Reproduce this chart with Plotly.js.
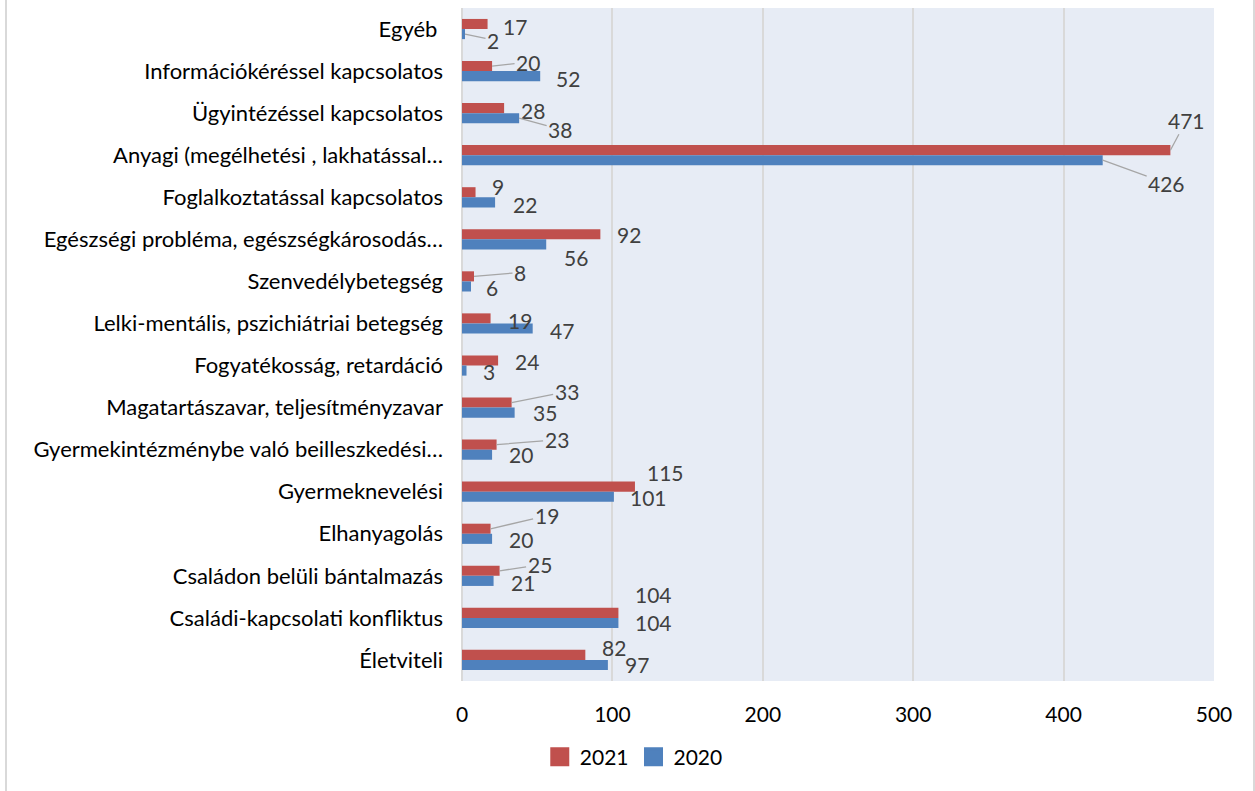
<!DOCTYPE html>
<html>
<head>
<meta charset="utf-8">
<script src="https://cdn.plot.ly/plotly-3.0.1.min.js"></script>
<style>
  html, body { margin: 0; padding: 0; background: #fff; }
  #frame { position: absolute; left: 5px; top: -5px; width: 1246px; height: 820px;
           border-left: 2px solid #d9d9d9; border-right: 2px solid #d9d9d9; }
  #chart { position: absolute; left: 0; top: 0; width: 1255px; height: 791px; }
</style>
</head>
<body>
<div id="frame"></div>
<div id="chart"></div>
<script>
// ---- data ----
const categories = [
  "Egyéb\u00a0",
  "Információkéréssel kapcsolatos",
  "Ügyintézéssel kapcsolatos",
  "Anyagi (megélhetési , lakhatással…",
  "Foglalkoztatással kapcsolatos",
  "Egészségi probléma, egészségkárosodás…",
  "Szenvedélybetegség",
  "Lelki-mentális, pszichiátriai betegség",
  "Fogyatékosság, retardáció",
  "Magatartászavar, teljesítményzavar",
  "Gyermekintézménybe való beilleszkedési…",
  "Gyermeknevelési",
  "Elhanyagolás",
  "Családon belüli bántalmazás",
  "Családi-kapcsolati konfliktus",
  "Életviteli"
];
const values2021 = [17, 20, 28, 471, 9, 92, 8, 19, 24, 33, 23, 115, 19, 25, 104, 82];
const values2020 = [2, 52, 38, 426, 22, 56, 6, 47, 3, 35, 20, 101, 20, 21, 104, 97];
const seriesNames = ["2021", "2020"];
const xTicks = [0, 100, 200, 300, 400, 500];

// ---- label placement (style: pixel offsets of label centre from bar end, leader line flag) ----
const labelOffsets2021 = [
  [27, 2, 0], [36, -4, 1], [29, 2, 0], [16, -30, 1], [22, -6, 0], [29, 0, 0],
  [46, -4, 1], [29, 2, 0], [29, 1, 0], [55, -11, 1], [60, -5, 1], [31, -14, 0],
  [56, -13, 1], [40, -6, 1], [35, -18, 0], [29, -7, 0]
];
const labelOffsets2020 = [
  [28, 6, 1], [28, 2, 0], [41, 11, 1], [64, 23, 1], [30, 2, 0], [30, 13, 0],
  [21, 1, 0], [29, 2, 0], [22, 1, 0], [30, 0, 0], [29, 0, 0], [35, 1, 0],
  [29, 1, 0], [29, 2, 0], [35, 0, 0], [29, 0, 0]
];

const RED = "#C0504D", BLUE = "#4F81BD";
const FONT = "Lato, 'Open Sans', sans-serif";
const FS = 21;

const traces = [
  { type: "bar", orientation: "h", name: seriesNames[0], y: categories, x: values2021,
    marker: { color: RED }, showlegend: false, legendgroup: "a" },
  { type: "bar", orientation: "h", name: seriesNames[1], y: categories, x: values2020,
    marker: { color: BLUE }, showlegend: false, legendgroup: "b" },
  // legend keys only (square swatches)
  { type: "scatter", mode: "markers", name: seriesNames[0], x: [null], y: [null],
    marker: { color: RED, symbol: "square", size: 16, line: { color: RED, width: 3 } },
    legendgroup: "a", hoverinfo: "skip" },
  { type: "scatter", mode: "markers", name: seriesNames[1], x: [null], y: [null],
    marker: { color: BLUE, symbol: "square", size: 16, line: { color: BLUE, width: 3 } },
    legendgroup: "b", hoverinfo: "skip" }
];

const annotations = [];
function addLabels(vals, offs, barShift) {
  vals.forEach((v, i) => {
    const [dx, dy, leader] = offs[i];
    const base = { x: v, y: categories[i], xref: "x", yref: "y", text: String(v),
      font: { family: FONT, size: FS, color: "#404040" } };
    if (leader) {
      annotations.push(Object.assign(base, { showarrow: true, arrowhead: 0, arrowwidth: 1.3,
        arrowcolor: "#a6a6a6", standoff: 0, ax: dx, ay: dy, yshift: barShift }));
    } else {
      annotations.push(Object.assign(base, { showarrow: false, xanchor: "center", yanchor: "middle",
        xshift: dx, yshift: barShift - dy }));
    }
  });
}
addLabels(values2021, labelOffsets2021, 5);
addLabels(values2020, labelOffsets2020, -5);

const layout = {
  width: 1255, height: 791,
  margin: { l: 462, r: 41, t: 8, b: 110 },
  paper_bgcolor: "rgba(0,0,0,0)",
  plot_bgcolor: "#e7ecf5",
  barmode: "group",
  bargap: 0.52,
  bargroupgap: 0,
  font: { family: FONT, size: FS, color: "#000" },
  xaxis: {
    range: [0, 500], tickvals: xTicks, ticktext: xTicks.map(String),
    showgrid: true, gridcolor: "#d9d9d9", gridwidth: 2,
    zeroline: true, zerolinecolor: "#d9d9d9", zerolinewidth: 2,
    showline: false, ticks: "", ticklabelstandoff: 19,
    tickfont: { family: FONT, size: FS, color: "#000" }, fixedrange: true
  },
  yaxis: {
    type: "category", categoryorder: "array", categoryarray: categories,
    autorange: false, range: [categories.length - 0.5, -0.5],
    showgrid: false, zeroline: false,
    showline: false, ticks: "", ticklabelstandoff: 18,
    tickfont: { family: FONT, size: 22, color: "#000" }, fixedrange: true
  },
  showlegend: true,
  legend: {
    orientation: "h", xref: "container", yref: "container", x: 0.505, y: 0.043,
    xanchor: "center", yanchor: "middle", font: { family: FONT, size: FS, color: "#000" },
    traceorder: "normal", itemwidth: 30, tracegroupgap: 0
  },
  annotations: annotations
};

Plotly.newPlot("chart", traces, layout, { displayModeBar: false, staticPlot: true });
</script>
</body>
</html>
